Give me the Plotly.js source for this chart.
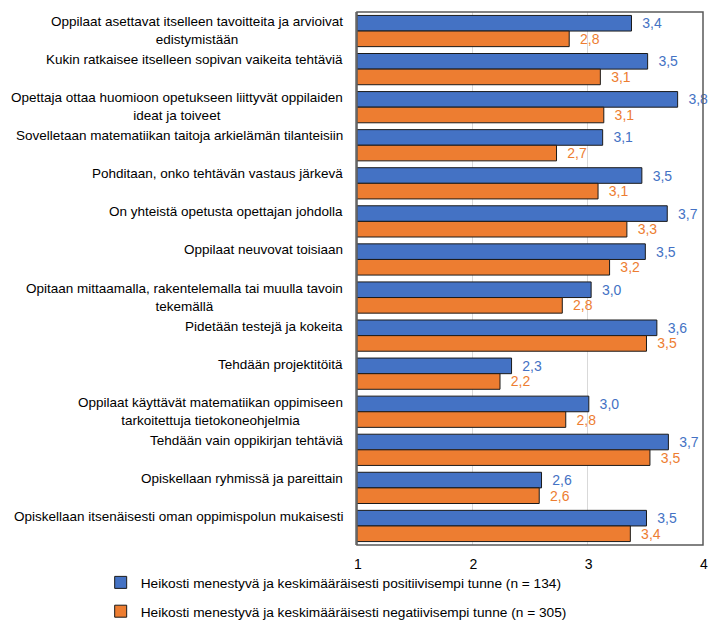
<!DOCTYPE html>
<html>
<head>
<meta charset="utf-8">
<script src="https://cdn.plot.ly/plotly-3.0.1.min.js"></script>
<style>html,body{margin:0;padding:0;background:#fff;}#chart{width:709px;height:621px;}</style>
</head>
<body>
<div id="chart"></div>
<script>
var categories = [
  "Oppilaat asettavat itselleen tavoitteita ja arvioivat<br>edistymistään",
  "Kukin ratkaisee itselleen sopivan vaikeita tehtäviä",
  "Opettaja ottaa huomioon opetukseen liittyvät oppilaiden<br>ideat ja toiveet",
  "Sovelletaan matematiikan taitoja arkielämän tilanteisiin",
  "Pohditaan, onko tehtävän vastaus järkevä",
  "On yhteistä opetusta opettajan johdolla",
  "Oppilaat neuvovat toisiaan",
  "Opitaan mittaamalla, rakentelemalla tai muulla tavoin<br>tekemällä",
  "Pidetään testejä ja kokeita",
  "Tehdään projektitöitä",
  "Oppilaat käyttävät matematiikan oppimiseen<br>tarkoitettuja tietokoneohjelmia",
  "Tehdään vain oppikirjan tehtäviä",
  "Opiskellaan ryhmissä ja pareittain",
  "Opiskellaan itsenäisesti oman oppimispolun mukaisesti"
];
var positiveValues = [3.38, 3.52, 3.78, 3.13, 3.47, 3.69, 3.50, 3.03, 3.60, 2.34, 3.01, 3.70, 2.60, 3.51];
var negativeValues = [2.84, 3.11, 3.14, 2.73, 3.09, 3.34, 3.19, 2.78, 3.51, 2.24, 2.81, 3.54, 2.58, 3.37];
var seriesNames = [
  "Heikosti menestyvä ja keskimääräisesti positiivisempi tunne (n = 134)",
  "Heikosti menestyvä ja keskimääräisesti negatiivisempi tunne (n = 305)"
];
var xTicks = [1, 2, 3, 4];

var FONT = "Liberation Sans, Arial, sans-serif";
var BLUE = "#4472C4", ORANGE = "#ED7D31";

var traces = [
  {
    type: "bar", orientation: "h", name: seriesNames[0], legendgroup: "a",
    y: categories, x: positiveValues,
    marker: {color: BLUE, line: {color: "#1a1a1a", width: 1}},
    texttemplate: "\u00a0\u00a0%{x:.1f}", textposition: "outside", cliponaxis: false,
    constraintext: "none",
    textfont: {color: BLUE, size: 14, family: FONT},
    hoverinfo: "skip"
  },
  {
    type: "bar", orientation: "h", name: seriesNames[1], legendgroup: "b",
    y: categories, x: negativeValues,
    marker: {color: ORANGE, line: {color: "#1a1a1a", width: 1}},
    texttemplate: "\u00a0\u00a0%{x:.1f}", textposition: "outside", cliponaxis: false,
    constraintext: "none",
    textfont: {color: ORANGE, size: 14, family: FONT},
    hoverinfo: "skip"
  }
];

var annotations = categories.map(function (c) {
  return {
    xref: "paper", yref: "y", x: -0.035, y: c,
    xanchor: "right", yanchor: "top", yshift: 19, align: "center",
    text: c, showarrow: false,
    font: {size: 13.5, color: "#000", family: FONT}
  };
});

var layout = {
  width: 709, height: 621,
  margin: {l: 357, r: 6, t: 12, b: 76, autoexpand: false},
  paper_bgcolor: "#fff", plot_bgcolor: "#fff",
  font: {family: FONT, size: 13, color: "#000"},
  separators: ", ",
  barmode: "group", bargap: 0.18, bargroupgap: 0,
  showlegend: true,
  legend: {
    orientation: "v", xref: "container", yref: "container",
    x: 0.142, xanchor: "left", y: 0.087, yanchor: "top",
    traceorder: "grouped", tracegroupgap: 8, itemwidth: 30,
    font: {size: 13.7, family: FONT, color: "#000"},
    bgcolor: "rgba(0,0,0,0)"
  },
  xaxis: {
    range: [1, 4], tickvals: xTicks, ticktext: xTicks.map(String),
    showgrid: true, gridcolor: "#D9D9D9", gridwidth: 1,
    zeroline: false, showline: false, ticks: "",
    ticklabelshift: 1, ticklabelstandoff: 9, ticklabeloverflow: "allow",
    tickfont: {size: 14, family: FONT, color: "#000"},
    automargin: false,
    fixedrange: true
  },
  yaxis: {
    autorange: "reversed", type: "category",
    showticklabels: false, ticks: "", showgrid: false, zeroline: false,
    showline: true, linecolor: "#8c8c8c", linewidth: 2,
    automargin: false,
    fixedrange: true
  },
  annotations: annotations,
  shapes: [
    {type: "rect", xref: "paper", yref: "paper", x0: 0, x1: 1, y0: 0, y1: 1,
     line: {color: "#595959", width: 1.5}, layer: "above"}
  ]
};

Plotly.newPlot("chart", traces, layout, {displayModeBar: false, staticPlot: true});
</script>
</body>
</html>
